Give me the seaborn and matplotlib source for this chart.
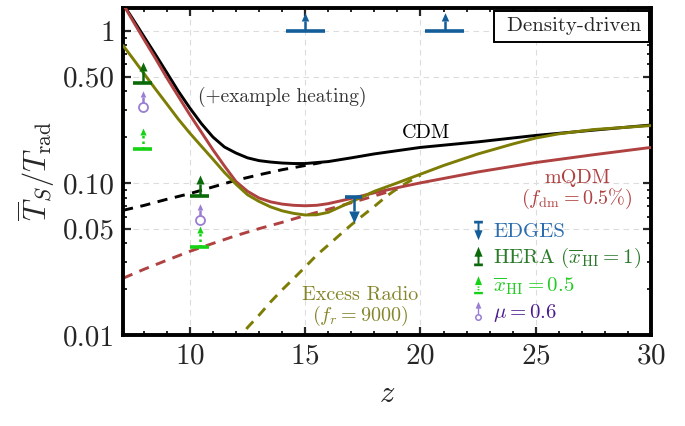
"""Spin temperature ratio vs redshift, density-driven case."""

import matplotlib
matplotlib.use("Agg")
import matplotlib.pyplot as plt
import numpy as np
import seaborn as sns
from matplotlib.lines import Line2D
from matplotlib.offsetbox import AnchoredText
from matplotlib.path import Path
from matplotlib.ticker import FixedFormatter, FixedLocator, MultipleLocator, NullFormatter

# ---------------------------------------------------------------------------
# Data
# ---------------------------------------------------------------------------

CDM_Z = [7.1, 7.5, 8.0, 8.5, 9.0, 9.5, 10.0, 10.5, 11.0, 11.5, 12.0, 12.5,
         13.0, 13.5, 14.0, 14.5, 15.0, 16.0, 17.0, 18.0, 20.0, 22.5, 25.0,
         27.5, 30.0]
CDM_T = [1.5, 1.21, 0.92, 0.70, 0.53, 0.40, 0.31, 0.245, 0.2, 0.172, 0.157,
         0.146, 0.14, 0.137, 0.135, 0.134, 0.134, 0.138, 0.146, 0.155, 0.171,
         0.186, 0.205, 0.222, 0.24]

MQDM_Z = [7.1, 7.5, 8.0, 8.5, 9.0, 9.5, 10.0, 10.5, 11.0, 11.5, 12.0, 12.5,
          13.0, 13.5, 14.0, 14.5, 15.0, 15.5, 16.0, 17.0, 18.0, 19.0, 20.0,
          22.5, 25.0, 27.5, 30.0]
MQDM_T = [1.5, 1.18, 0.88, 0.66, 0.49, 0.37, 0.28, 0.215, 0.165, 0.129, 0.102,
          0.088, 0.0795, 0.075, 0.0725, 0.0712, 0.0707, 0.0712, 0.073, 0.079,
          0.086, 0.093, 0.1, 0.118, 0.136, 0.153, 0.171]

RADIO_Z = [7.1, 7.5, 8.0, 8.5, 9.0, 9.5, 10.0, 10.5, 11.0, 11.5, 12.0, 12.5,
           13.0, 13.5, 14.0, 14.5, 15.0, 15.5, 16.0, 17.0, 18.0, 19.0, 20.0,
           21.0, 22.5, 24.0, 25.0, 26.0, 27.5, 30.0]
RADIO_T = [0.80, 0.665, 0.525, 0.415, 0.33, 0.262, 0.212, 0.174, 0.143, 0.117,
           0.098, 0.0835, 0.0755, 0.0695, 0.0655, 0.063, 0.0615, 0.0617, 0.064,
           0.075, 0.088, 0.1, 0.114, 0.13, 0.155, 0.18, 0.197, 0.21, 0.224,
           0.238]

# no-heating counterparts (dashed)
CDM_NH_Z = [7.1, 8.0, 9.0, 10.0, 11.0, 12.0, 13.0, 14.0, 15.0, 15.7]
CDM_NH_T = [0.066, 0.071, 0.078, 0.085, 0.094, 0.104, 0.113, 0.122, 0.13, 0.136]

MQDM_NH_Z = [7.1, 8.0, 9.0, 10.0, 11.0, 12.0, 13.0, 14.0, 15.0, 16.0, 17.0,
             18.0, 19.0]
MQDM_NH_T = [0.0236, 0.027, 0.031, 0.0355, 0.040, 0.045, 0.050, 0.055, 0.061,
             0.067, 0.074, 0.082, 0.091]

RADIO_NH_Z = [12.0, 12.5, 13.0, 13.5, 14.0, 14.5, 15.0, 15.5, 16.0, 16.5, 17.0,
              17.5, 18.0, 18.5, 19.0, 19.5, 20.0]
RADIO_NH_T = [0.0088, 0.0112, 0.0135, 0.0165, 0.0198, 0.0235, 0.028, 0.0335,
              0.039, 0.0455, 0.053, 0.061, 0.07, 0.081, 0.092, 0.102, 0.112]

# limits
EDGES_LO_Z = [15.0, 21.05]
EDGES_LO_T = [1.0, 1.0]
EDGES_LO_DZ = [0.85, 0.85]
EDGES_UP_Z = [17.1]
EDGES_UP_T = [0.081]
EDGES_UP_DZ = [0.37]

HERA_Z = [7.95, 10.42]
HERA_DZ = [0.4, 0.4]
HERA_T = [0.45, 0.082]        # x_HI = 1
HERA05_T = [0.167, 0.038]     # x_HI = 0.5
MU_T = [0.315, 0.057]         # mu = 0.6

Y_TICKS = [0.01, 0.05, 0.1, 0.5, 1]
Y_TICKLABELS = ["0.01", "0.05", "0.10", "0.50", "1"]

# ---------------------------------------------------------------------------
# Style
# ---------------------------------------------------------------------------

C_CDM = "black"
C_MQDM = "#b04141"
C_RADIO = "#7d7d05"
C_EDGES = "#135d99"
C_HERA = "#0a6a0a"
C_HERA05 = "#14d214"
C_MU = "#9a7dd4"

sns.set_theme(style="ticks")
plt.rcParams.update({
    "font.family": "serif",
    "font.serif": ["cmr10", "DejaVu Serif"],
    "mathtext.fontset": "cm",
    "axes.formatter.use_mathtext": True,
    "axes.unicode_minus": False,
})


def _compound(polys):
    verts, codes = [], []
    for p in polys:
        verts += list(p) + [p[0]]
        codes += [Path.MOVETO] + [Path.LINETO] * (len(p) - 1) + [Path.CLOSEPOLY]
    return Path(verts, codes)


def _rect(x0, x1, y0, y1):
    return [(x0, y0), (x1, y0), (x1, y1), (x0, y1)]


def _ring(cx, cy, r_out, r_in, n=40):
    th = np.linspace(0, 2 * np.pi, n, endpoint=False)
    outer = [(cx + r_out * np.cos(t), cy + r_out * np.sin(t)) for t in th]
    inner = [(cx + r_in * np.cos(t), cy + r_in * np.sin(t)) for t in th[::-1]]
    return [outer, inner]


_HEAD_UP = _compound([[(-0.9, 0.0), (0.9, 0.0), (0.0, 2.0)]])
_HEAD_DOWN = _compound([[(0.9, 0.0), (-0.9, 0.0), (0.0, -2.0)]])

# legend icons
_ICON_DOWN = _compound([
    _rect(-0.45, 0.45, 0.72, 1.0),
    _rect(-0.1, 0.1, 0.0, 0.72),
    [(0.42, 0.02), (-0.42, 0.02), (0.0, -1.0)],
])
_ICON_UP = _compound([
    _rect(-0.45, 0.45, -1.0, -0.72),
    _rect(-0.1, 0.1, -0.72, 0.0),
    [(-0.42, -0.02), (0.42, -0.02), (0.0, 1.0)],
])
_ICON_UP_DOT = _compound([
    _rect(-0.45, 0.45, -1.0, -0.76),
    _rect(-0.09, 0.09, -0.6, -0.46),
    _rect(-0.09, 0.09, -0.34, -0.2),
    [(-0.36, -0.06), (0.36, -0.06), (0.0, 0.85)],
])
_ICON_MU = _compound(
    _ring(0.0, -0.62, 0.36, 0.2)
    + [_rect(-0.07, 0.07, -0.26, 0.35),
       [(-0.3, 0.3), (0.3, 0.3), (0.0, 1.0)]]
)


def _limits(ax, z, t, dz, color, fac, head_ms, down=False,
            stem_ls="-", circle=False):
    """Horizontal z-bin bar plus an arrow marking an upper/lower limit."""
    z = np.asarray(z)
    t = np.asarray(t)
    tip = t / fac if down else t * fac
    if dz is not None:
        ax.errorbar(z, t, xerr=dz, fmt="none", ecolor=color,
                    elinewidth=2.6, capsize=0, zorder=5)
    ax.vlines(z, t, tip, colors=color, lw=1.8, linestyles=stem_ls, zorder=5)
    ax.plot(z, tip, ls="none", marker=_HEAD_DOWN if down else _HEAD_UP,
            ms=head_ms, color=color, mew=0, zorder=6)
    if circle:
        ax.plot(z, t, ls="none", marker="o", ms=6.5, mfc="white",
                mec=color, mew=1.3, zorder=7)


# ---------------------------------------------------------------------------
# Figure
# ---------------------------------------------------------------------------

fig = plt.figure(figsize=(6.85, 4.26), dpi=100)
ax = fig.add_axes([0.1796, 0.2136, 0.7708, 0.7676])
ax.set_yscale("log")

solid = dict(lw=2.1, ax=ax, zorder=3)
dashed = dict(lw=2.1, ax=ax, zorder=2, linestyle=(0, (3.5, 2.6)))

sns.lineplot(x=CDM_NH_Z, y=CDM_NH_T, color=C_CDM, **dashed)
sns.lineplot(x=MQDM_NH_Z, y=MQDM_NH_T, color=C_MQDM, **dashed)
sns.lineplot(x=RADIO_NH_Z, y=RADIO_NH_T, color=C_RADIO, **dashed)
sns.lineplot(x=CDM_Z, y=CDM_T, color=C_CDM, **solid)
sns.lineplot(x=MQDM_Z, y=MQDM_T, color=C_MQDM, **solid)
sns.lineplot(x=RADIO_Z, y=RADIO_T, color=C_RADIO, **solid)

_limits(ax, EDGES_LO_Z, EDGES_LO_T, EDGES_LO_DZ, C_EDGES, 1.15, 12)
_limits(ax, EDGES_UP_Z, EDGES_UP_T, EDGES_UP_DZ, C_EDGES, 1.24, 17, down=True)
_limits(ax, HERA_Z, HERA_T, HERA_DZ, C_HERA, 1.2, 13)
_limits(ax, HERA_Z, HERA05_T, HERA_DZ, C_HERA05, 1.24, 10, stem_ls=(0, (1, 1.2)))
_limits(ax, HERA_Z, MU_T, None, C_MU, 1.17, 9, circle=True)

# axes
ax.set_xlim(7.1, 30)
ax.set_ylim(0.01, 1.41)
ax.xaxis.set_major_locator(MultipleLocator(5))
ax.xaxis.set_minor_locator(MultipleLocator(1))
ax.yaxis.set_major_locator(FixedLocator(Y_TICKS))
ax.yaxis.set_major_formatter(FixedFormatter(Y_TICKLABELS))
ax.yaxis.set_minor_formatter(NullFormatter())
ax.tick_params(which="both", direction="in", top=True, right=True,
               labelsize=21, pad=6)
ax.tick_params(which="major", length=6, width=1.6)
ax.tick_params(which="minor", length=3.2, width=1.4)
for sp in ax.spines.values():
    sp.set_linewidth(2.8)
    sp.set_color("black")
ax.grid(True, which="major", ls=(0, (5, 4)), color="#dcdcdc", lw=0.8)
ax.set_axisbelow(True)

ax.set_xlabel("$z$", fontsize=22, labelpad=8)
ax.set_ylabel(r"$\overline{T}_S/T_{\rm rad}$", fontsize=22, labelpad=4)

# annotations
ax.text(20.23, 0.212, "CDM", fontsize=14.5, color="black",
        ha="center", va="center")
ax.text(14.0, 0.368, "(+example heating)", fontsize=14, color="#333333",
        ha="center", va="center")
ax.text(26.8, 0.0895, "mQDM\n" r"($f_{\rm dm} = 0.5\%$)", fontsize=14.5,
        color=C_MQDM, ha="center", va="center", linespacing=1.0)
ax.text(17.4, 0.0152, "Excess Radio\n" r"($f_r = 9000$)", fontsize=14.5,
        color="#85852a", ha="center", va="center", linespacing=1.0)

box = AnchoredText(" Density-driven", loc="upper right", frameon=True,
                   pad=0.33, borderpad=0.12, prop=dict(size=15))
box.patch.set_boxstyle("square,pad=0.")
box.patch.set_linewidth(1.4)
box.patch.set_edgecolor("black")
box.zorder = 8
ax.add_artist(box)

# legend
handles = [
    Line2D([], [], ls="none", marker=_ICON_DOWN, ms=14, color=C_EDGES, mew=0),
    Line2D([], [], ls="none", marker=_ICON_UP, ms=14, color=C_HERA, mew=0),
    Line2D([], [], ls="none", marker=_ICON_UP_DOT, ms=14, color=C_HERA05, mew=0),
    Line2D([], [], ls="none", marker=_ICON_MU, ms=14, color=C_MU, mew=0),
]
labels = [
    "EDGES",
    r"HERA ($\overline{x}_{\rm HI} = 1$)",
    r"$\overline{x}_{\rm HI} = 0.5$",
    r"$\mu = 0.6$",
]
leg = ax.legend(handles, labels, loc="upper left", bbox_to_anchor=(0.64, 0.37),
                frameon=False, fontsize=15, handlelength=0.8,
                handletextpad=0.35, labelspacing=0.25, borderaxespad=0.0)
for txt, c in zip(leg.get_texts(), ["#2b6cb0", "#2a7a2a", "#22cc22", "#4b1a8f"]):
    txt.set_color(c)

fig.savefig("out.png", dpi=100)
